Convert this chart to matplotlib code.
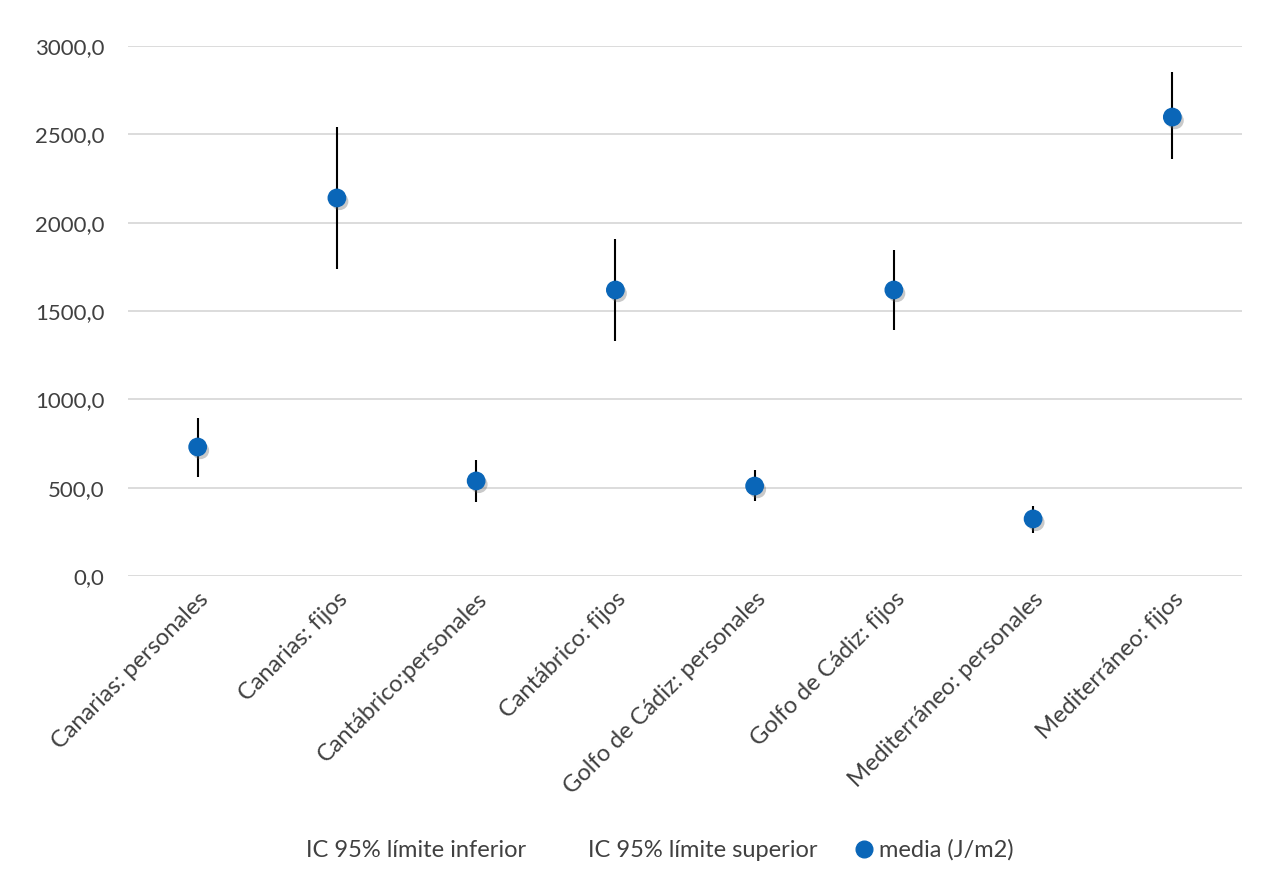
import matplotlib
matplotlib.use("Agg")
import matplotlib.pyplot as plt
import matplotlib.patheffects as pe
from matplotlib.ticker import FuncFormatter, MultipleLocator
from matplotlib.lines import Line2D

plt.rcParams['font.family'] = ['Lato', 'DejaVu Sans']

categorias = ["Canarias: personales", "Canarias: fijos", "Cantábrico:personales",
              "Cantábrico: fijos", "Golfo de Cádiz: personales", "Golfo de Cádiz: fijos",
              "Mediterráneo: personales", "Mediterráneo: fijos"]
media = [730, 2140, 538, 1619, 509, 1619, 323, 2598]
ic_inferior = [563, 1738, 419, 1330, 425, 1392, 243, 2360]
ic_superior = [897, 2541, 657, 1908, 600, 1845, 396, 2853]

gris = "#404040"
azul = "#0a66b8"

fig = plt.figure(figsize=(12.78, 8.92), dpi=100)
ax = fig.add_axes([0.1002, 0.3543, 0.8716, 0.5941])

x = list(range(len(categorias)))
ax.vlines(x, ic_inferior, ic_superior, color="black", lw=1.5, zorder=2)
ax.plot(x, media, ls="none", marker="o", ms=12.5, color=azul, zorder=3,
        path_effects=[pe.SimplePatchShadow(offset=(2, -2.5), shadow_rgbFace="#666666", alpha=0.35), pe.Normal()])

ax.set_xlim(-0.5, len(categorias) - 0.5)
ax.set_ylim(0, 3000)
ax.yaxis.set_major_locator(MultipleLocator(500))
ax.yaxis.set_major_formatter(FuncFormatter(lambda v, p: ("%.1f" % v).replace(".", ",")))
ax.grid(axis="y", color="#d9d9d9", lw=1.3)
ax.set_axisbelow(True)
for s in ax.spines.values():
    s.set_visible(False)
ax.tick_params(axis="both", length=0, colors=gris)
ax.tick_params(axis="y", pad=17, labelsize=16)
ax.set_xticks(x)
ax.set_xticklabels(categorias, rotation=45, ha="right", rotation_mode="anchor")
ax.tick_params(axis="x", pad=9, labelsize=17)

handles = [Line2D([], [], ls="none"), Line2D([], [], ls="none"),
           Line2D([], [], ls="none", marker="o", ms=12, color=azul)]
fig.legend(handles, ["IC 95% límite inferior", "IC 95% límite superior", "media (J/m2)"],
           loc="center", bbox_to_anchor=(0.507, 0.047), ncol=3, frameon=False,
           fontsize=17, labelcolor=gris, handlelength=0.8, handletextpad=0.2, columnspacing=1.6)

fig.savefig("out.png", dpi=100)
